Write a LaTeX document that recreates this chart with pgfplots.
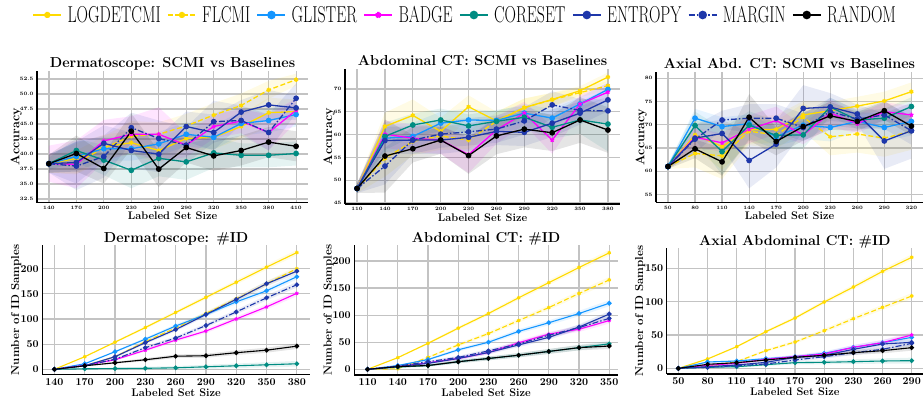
\documentclass[border=0pt]{standalone}
\usepackage{pgfplots}
\pgfplotsset{compat=1.18}
\usepackage{pgfplotstable}
\usepgfplotslibrary{fillbetween}
\usepackage{graphicx}

\definecolor{cgold}{RGB}{255,218,0}
\definecolor{cglis}{RGB}{20,150,255}
\definecolor{cbadge}{RGB}{255,0,255}
\definecolor{ccore}{RGB}{0,140,130}
\definecolor{cent}{RGB}{30,55,170}
\definecolor{cgrid}{RGB}{195,195,195}

\pgfplotsset{
  every axis title shift=0pt,
  sL/.style={cgold, mark=asterisk, mark options={solid}},
  sF/.style={cgold, dash pattern=on 5pt off 2.5pt, mark=asterisk, mark options={solid}},
  sG/.style={cglis, mark=*, mark options={solid}},
  sB/.style={cbadge, mark=star, mark options={solid}},
  sC/.style={ccore, mark=*, mark options={solid}},
  sE/.style={cent, mark=*, mark options={solid}},
  sM/.style={cent, dash pattern=on 6pt off 2pt on 1.5pt off 2pt, mark=*, mark options={solid}},
  sR/.style={black, mark=*, mark options={solid}},
  base/.style={scale only axis, axis x line*=bottom, axis y line*=left,
    axis line style={-, line width=1.2pt, black},
    grid=major, major grid style={cgrid, line width=1.2pt},
    tick align=inside, major tick length=2pt, tick style={cgrid, line width=1pt},
    /pgf/number format/assume math mode=true,
    title style={at={(axis description cs:0.5,1)}, anchor=base, inner sep=0pt, font=\bfseries\fontsize{14.4}{16}\selectfont},
    xlabel style={at={(axis description cs:0.5,0)}, anchor=base, inner sep=0pt, font=\bfseries\fontsize{11}{13}\selectfont},
    ylabel style={anchor=base, inner sep=0pt},
  },
  toprow/.style={base,
    tick label style={font=\bfseries\fontsize{5}{6}\selectfont},
    title style={yshift=3.5pt},
    xlabel style={yshift=-17.3pt},
    ylabel style={font=\bfseries\fontsize{12.5}{14}\selectfont},
    every axis plot/.append style={line width=1.3pt, mark size=2.2pt}},
  botrow/.style={base,
    tick label style={font=\bfseries\fontsize{10.5}{12}\selectfont},
    title style={yshift=2.5pt},
    xlabel style={yshift=-22pt},
    ylabel style={font=\bfseries\fontsize{11.5}{13}\selectfont},
    every axis plot/.append style={line width=1.1pt, mark size=1.8pt}},
}

\newcommand\bandop{0.1}
\newcommand\band[5]{%
  \addplot[draw=none, forget plot, name path=u#5#2] table[x=x, y expr=\thisrow{#2}+\thisrow{#3}] {#1};
  \addplot[draw=none, forget plot, name path=d#5#2] table[x=x, y expr=\thisrow{#2}-\thisrow{#3}] {#1};
  \addplot[fill=#4, fill opacity=\bandop, draw=none, forget plot] fill between[of=u#5#2 and d#5#2];
}
\newcommand\lines[1]{%
  \addplot[sL] table[x=x,y=L]{#1};
  \addplot[sF] table[x=x,y=F]{#1};
  \addplot[sG] table[x=x,y=G]{#1};
  \addplot[sB] table[x=x,y=B]{#1};
  \addplot[sC] table[x=x,y=C]{#1};
  \addplot[sE] table[x=x,y=E]{#1};
  \addplot[sM] table[x=x,y=M]{#1};
  \addplot[sR] table[x=x,y=R]{#1};
}
\newcommand\topseries[2]{%
  \band{#1}{L}{Ls}{cgold}{#2}\band{#1}{F}{Fs}{cgold}{#2}\band{#1}{G}{Gs}{cglis}{#2}\band{#1}{B}{Bs}{cbadge}{#2}%
  \band{#1}{C}{Cs}{ccore}{#2}\band{#1}{E}{Es}{cent}{#2}\band{#1}{M}{Ms}{cent}{#2}\band{#1}{R}{Rs}{black}{#2}%
  \lines{#1}}
\newcommand\botseries[2]{%
  \band{#1}{L}{s}{cgold}{#2}\band{#1}{F}{s}{cgold}{#2}\band{#1}{G}{s}{cglis}{#2}\band{#1}{B}{s}{cbadge}{#2}%
  \band{#1}{C}{s}{ccore}{#2}\band{#1}{E}{s}{cent}{#2}\band{#1}{M}{s}{cent}{#2}\band{#1}{R}{s}{black}{#2}%
  \lines{#1}}

\pgfplotstableread{
x L F G B C E M R Ls Fs Gs Bs Cs Es Ms Rs
140 38.4 38.4 38.4 38.4 38.4 38.4 38.4 38.4 1.5 1.5 1.5 3 1 1.5 1.5 1.5
170 39.3 38.6 39.6 38.3 40.6 38.6 38.0 40.1 2.5 2 2.5 4 2 3.5 4 3
200 41.2 41.0 40.9 42.2 39.0 41.8 39.6 37.6 2 2 2 3.5 2.5 3 3.5 2.5
230 41.9 43.0 40.9 43.3 37.3 40.6 44.4 43.8 2 2.5 2 3 3 3 2.5 3
260 40.6 43.3 41.7 43.3 39.3 40.0 42.6 37.5 2 2 2 4.5 3 3 3 3
290 42.6 44.7 43.3 41.5 38.7 44.6 41.5 41.1 2 2 2 2 3 2.5 3 2.5
320 42.8 46.5 42.8 44.6 40.2 43.6 45.4 39.7 2 2 2 2 2.5 3 3.5 2.5
350 44.6 48.1 45.1 45.5 39.8 47.0 45.6 40.6 2 2 2 2 2 2 2.5 2.5
380 46.9 50.7 45.6 43.6 39.8 48.2 43.6 42.0 2.5 1.5 2 3 2 2.5 3 2.5
410 47.1 52.4 46.6 47.3 40.1 47.7 49.3 41.3 2 1 2 2 2 2 2.5 2.5
}\dermacc

\pgfplotstableread{
x L F G B C E M R Ls Fs Gs Bs Cs Es Ms Rs
110 48.2 48.2 48.2 48.2 48.2 48.2 48.2 48.2 1 1 1 1 1 1 1 1
140 61.8 54.8 59.2 60.1 59.6 58.7 53.1 55.3 3 4 3 3 3 3 4 8
170 64.2 58.5 59.6 59.2 62.1 58.8 58.8 56.9 3.5 3 3 3 2.5 3 3 3
200 60.7 59.7 62.5 58.8 63.2 58.8 60.1 58.8 3 3 2.5 3 2.5 3 3 3
230 66.1 58.8 63.2 55.6 61.9 59.4 60.6 55.4 2.5 2 2.5 4 2.5 3 3 4
260 63.0 62.9 63.1 61.0 62.9 60.7 61.2 59.7 2 2 2 3 2.5 3 3 4
290 65.9 65.9 64.7 64.7 63.8 60.5 63.0 61.2 2 2 2 2.5 2.5 3 3 4
320 67.7 67.6 63.6 58.8 61.6 62.5 66.5 60.4 1.5 1.5 2 3 2.5 3 3 4
350 69.6 69.2 66.7 66.7 63.2 64.7 65.3 63.2 1 1 1.5 2 3 2.5 2.5 5
380 72.6 70.7 69.9 69.3 62.3 67.6 65.2 61.0 1 1 1.5 2 6 2.5 2.5 5
}\abdacc

\pgfplotstableread{
x L F G B C E M R Ls Fs Gs Bs Cs Es Ms Rs
50 61.0 61.0 61.0 61.0 61.0 61.0 61.0 61.0 0.5 0.5 0.5 0.5 0.5 0.5 0.5 0.5
80 67.8 63.8 71.4 67.3 69.8 67.1 66.9 64.8 3 3 2 2 3 3 3 2
110 65.3 63.3 69.6 66.1 64.2 68.1 71.0 62.0 5 5 2 2 5 3 2 3
140 68.9 68.6 70.2 69.0 69.9 62.3 71.4 71.6 3 3 2 3 3 6 3 5
170 69.0 67.8 67.4 70.9 67.7 65.8 71.4 66.4 3 3 2 3 3 5 3 3
200 72.1 71.6 69.9 67.8 67.8 73.5 69.4 69.6 3 3 3 2 3 5 3 3
230 73.0 67.4 69.4 72.5 73.8 73.8 72.8 71.9 2 4 3 3 2 3 3 3
260 74.0 68.0 70.7 70.2 71.0 72.3 71.2 70.7 2 4 2 2 2 2 2 2
290 75.1 67.1 69.4 72.8 71.4 66.5 72.1 73.0 2 4 3 2 2 6 3 2
320 77.1 68.6 70.7 72.1 73.9 68.7 68.7 69.7 2 4 3 2 2 6 3 2
}\axacc

\pgfplotstableread{
x L F G B C E M R s
140 0 0 0 0 0 0 0 0 0
170 25 7 11 8 1 7 7 7 1
200 54 25 35 19 1.5 25 20 13 2
230 83 55 60 38 2 53 43 19 3
260 113 82 86 58 3 79 62 26 3.5
290 143 111 109 76 5 109 87 27 4
320 173 140 134 100 7 139 114 33 4.5
350 203 170 156 124 9 170 142 38 5
380 232 200 184 151 11 195 168 46 5.5
}\dermid

\pgfplotstableread{
x L F G B C E M R s
110 0 0 0 0 0 0 0 0 0
140 21.5 1 7 5 4 5 6 5 1
170 48 22 18 12 7 11 14 7 2
200 76 45 36 20 14 20 22 14 3
230 103 66 50 31 20 31 34 20 3.5
260 132 90 70 49 26 45 47 26 4
290 160 114 86 65 33 59 63 33 4.5
320 188 140 103 74 40 78 77 40 5
350 215 165 122 90 47 102 94 43 5.5
}\abdid

\pgfplotstableread{
x L F G B C E M R s
50 0 0 0 0 0 0 0 0 0
80 14 2.5 9.5 4.5 1.5 2.5 1.5 6 1
110 32.5 10 11 7.5 2.5 5 4 8.5 1.5
140 55 26.5 14.5 13.5 5.5 9 6.5 12.5 2
170 75.5 39.5 17.5 17.5 8.5 16.5 12.5 16.5 2.5
200 99.5 56.5 22.5 21.5 9 19.5 17.5 19.5 3
230 122 74.5 31.5 31.5 10 28.5 23.5 23.5 3.5
260 145.5 91.5 38.5 38.5 11 36.5 28.5 26.5 4
290 166.5 108.5 46.5 50 11.5 39 37.5 31 4.5
}\axid

\begin{document}
\begin{tikzpicture}
% ---------- top row ----------
\begin{axis}[toprow, at={(37pt,198.3pt)}, anchor=south west, width=271pt, height=132pt,
  xmin=127, xmax=423, ymin=31.9, ymax=53.9,
  xtick={140,170,...,410}, ytick={32.5,35,...,52.5},
  yticklabel style={/pgf/number format/.cd, fixed, fixed zerofill, precision=1},
  title={Dermatoscope: SCMI vs Baselines}, xlabel={Labeled Set Size}, ylabel={Accuracy},
  ylabel style={at={([xshift=-17.7pt]axis description cs:0,0.5)}}]
\topseries{\dermacc}{a}
\end{axis}

\begin{axis}[toprow, at={(345pt,197pt)}, anchor=south west, width=275pt, height=134.7pt,
  xmin=97, xmax=393, ymin=44.8, ymax=74.3,
  xtick={110,140,...,380}, ytick={45,50,...,70},
  title={Abdominal CT: SCMI vs Baselines}, xlabel={Labeled Set Size}, ylabel={Accuracy},
  ylabel style={at={([xshift=-13pt]axis description cs:0,0.5)}}]
\topseries{\abdacc}{b}
\end{axis}

\begin{axis}[toprow, at={(656pt,198.7pt)}, anchor=south west, width=267pt, height=130.6pt,
  xmin=36.7, xmax=332.9, ymin=53.3, ymax=81.4,
  xtick={50,80,...,320}, ytick={55,60,...,80},
  title={Axial Abd. CT: SCMI vs Baselines}, xlabel={Labeled Set Size}, ylabel={Accuracy},
  ylabel style={at={([xshift=-11.7pt]axis description cs:0,0.5)}}]
\topseries{\axacc}{c}
\end{axis}

% ---------- bottom row ----------
\begin{axis}[botrow, at={(42.3pt,26.3pt)}, anchor=south west, width=267.7pt, height=129.7pt,
  xmin=128, xmax=393, ymin=-10.7, ymax=247,
  xtick={140,170,...,380}, ytick={0,50,...,200},
  title={Dermatoscope: \#ID}, xlabel={Labeled Set Size}, ylabel={Number of ID Samples},
  ylabel style={at={([xshift=-23.3pt]axis description cs:0,0.5)}}]
\botseries{\dermid}{d}
\end{axis}

\begin{axis}[botrow, at={(354.3pt,26pt)}, anchor=south west, width=263.7pt, height=130pt,
  xmin=96.8, xmax=358.7, ymin=-10.5, ymax=229.5,
  xtick={110,140,...,350}, ytick={0,50,...,200},
  title={Abdominal CT: \#ID}, xlabel={Labeled Set Size}, ylabel={Number of ID Samples},
  ylabel style={at={([xshift=-22.8pt]axis description cs:0,0.5)}}]
\botseries{\abdid}{e}
\end{axis}

\begin{axis}[botrow, at={(666.7pt,27pt)}, anchor=south west, width=256.3pt, height=126.3pt,
  xmin=38, xmax=301.6, ymin=-8.5, ymax=181,
  xtick={50,80,...,290}, ytick={0,50,...,150},
  title={Axial Abdominal CT: \#ID}, xlabel={Labeled Set Size}, ylabel={Number of ID Samples},
  ylabel style={at={([xshift=-23.7pt]axis description cs:0,0.5)}}]
\botseries{\axid}{f}
\end{axis}

% ---------- legend ----------
\begin{axis}[hide axis, scale only axis, width=10pt, height=10pt, xmin=0, xmax=1, ymin=0, ymax=1,
  at={(464pt,386pt)}, anchor=center, legend columns=8,
  legend style={at={(0.5,0.5)}, anchor=center, draw=none, fill=none, inner sep=0pt,
    font=\fontsize{23}{26}\selectfont, nodes={inner sep=0pt},
    /tikz/every odd column/.append style={column sep=5pt},
    /tikz/every even column/.append style={column sep=6pt}},
  legend image code/.code={\draw[mark repeat=2, mark phase=2, #1] plot coordinates {(0pt,0pt) (14pt,0pt) (28pt,0pt)};}]
\addlegendimage{sL, line width=2.5pt, mark size=3pt}\addlegendentry{\scalebox{0.69}[1]{LOGDETCMI}}
\addlegendimage{sF, line width=2.5pt, mark size=3pt}\addlegendentry{\scalebox{0.69}[1]{FLCMI}}
\addlegendimage{sG, line width=2.5pt, mark size=3pt}\addlegendentry{\scalebox{0.69}[1]{GLISTER}}
\addlegendimage{sB, line width=2.5pt, mark size=3pt}\addlegendentry{\scalebox{0.69}[1]{BADGE}}
\addlegendimage{sC, line width=2.5pt, mark size=3pt}\addlegendentry{\scalebox{0.69}[1]{CORESET}}
\addlegendimage{sE, line width=2.5pt, mark size=3pt}\addlegendentry{\scalebox{0.69}[1]{ENTROPY}}
\addlegendimage{sM, line width=2.5pt, mark size=3pt}\addlegendentry{\scalebox{0.69}[1]{MARGIN}}
\addlegendimage{sR, line width=2.5pt, mark size=3pt}\addlegendentry{\scalebox{0.69}[1]{RANDOM}}
\end{axis}

\pgfresetboundingbox
\useasboundingbox (0,0) rectangle (923pt,401pt);
\end{tikzpicture}
\end{document}
